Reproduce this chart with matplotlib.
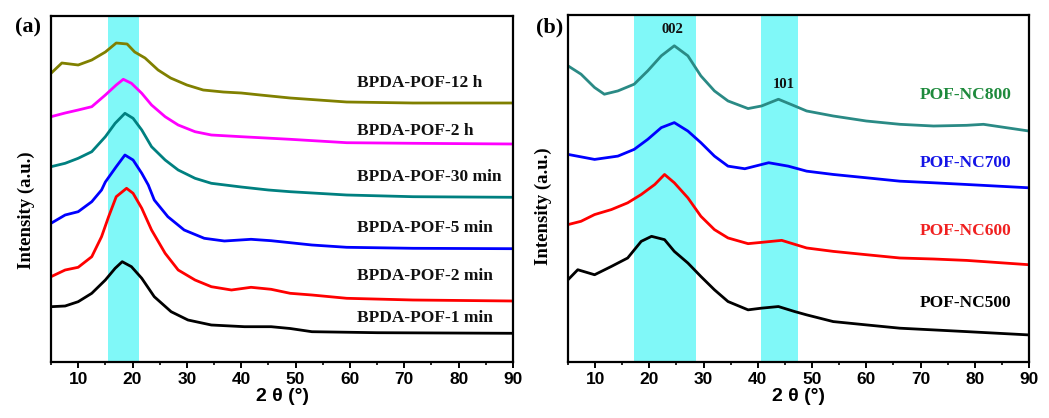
import matplotlib
matplotlib.use("Agg")
import matplotlib.pyplot as plt
from matplotlib.ticker import MultipleLocator

# ---------------- data ----------------
# Panel (a): BPDA-POF series, offset intensity (a.u.)
x_12h = [5, 7, 10, 12.5, 15, 17, 19, 20.4, 22.3, 24.7, 27, 30, 33, 36.7, 40, 43.5, 49, 59.4, 71.6, 90]
y_12h = [288.7, 299, 297, 302, 310, 319, 318, 310, 304, 292, 284, 277, 272, 270, 269, 267, 264, 260, 259, 259]

x_2h = [5, 7.6, 10, 12.5, 15, 17, 18.3, 19.8, 21.7, 23.5, 26, 28.4, 31.5, 34.5, 40, 49, 59.4, 71.6, 90]
y_2h = [245.3, 249, 252, 255.3, 267, 277, 282.7, 278.7, 268.7, 257, 245.3, 237, 230.3, 227, 225.3, 222.7, 219.3, 218.7, 218]

x_30m = [5, 7.6, 10, 12.5, 15, 16.8, 18.6, 20.1, 21.7, 23.5, 26, 28.4, 31.5, 34.5, 40, 45, 49, 59.4, 71.6, 90]
y_30m = [195.3, 198.7, 203.7, 210.3, 225.3, 238.7, 248.7, 243.7, 232, 215.3, 202, 192, 183.7, 178.7, 175, 172, 170.3, 167, 165.3, 164.7]

x_5m = [5, 7.6, 10, 12.5, 14.3, 15, 17, 18.6, 20.1, 21.7, 22.9, 24, 26.5, 29.5, 33.2, 36.9, 41.8, 45.5, 49, 53, 59.4, 71.6, 90]
y_5m = [138.7, 147, 150.3, 160.3, 172, 180, 195.3, 207, 202, 188.7, 177, 162, 145.3, 132, 123.7, 121, 122.7, 121.3, 119.3, 117, 114.7, 113.7, 113.3]

x_2m = [5, 7.6, 10, 12.5, 14.3, 15.6, 17, 18.9, 20.1, 21.7, 23.5, 26, 28.4, 31.5, 34.5, 38.2, 41.8, 45.5, 49, 53, 59.4, 71.6, 90]
y_2m = [85.3, 92, 94.7, 105.3, 125.3, 145.3, 165.3, 173.7, 168.7, 153.7, 132, 108.7, 92, 82, 75.3, 72, 74.7, 72.7, 68.7, 67, 63.7, 62, 61]

x_1m = [5, 7.6, 10, 12.5, 15, 16.8, 18.1, 19.8, 21.7, 24, 27.1, 30.2, 34.5, 40.6, 45.5, 49, 53, 65, 90]
y_1m = [55.3, 56, 60.3, 68.7, 82, 93.7, 100.3, 95.3, 83.7, 65.3, 50.3, 42, 37, 35.3, 35.3, 33.5, 30.3, 29.3, 28.7]

labels_a = ["BPDA-POF-12 h", "BPDA-POF-2 h", "BPDA-POF-30 min",
            "BPDA-POF-5 min", "BPDA-POF-2 min", "BPDA-POF-1 min"]
label_y_a = [278.7, 231.3, 184.7, 133.7, 86.3, 43.7]
colors_a = ["#808000", "#FF00FF", "#008080", "#0000FF", "#FF0000", "#000000"]

# Panel (b): POF-NC series
x_800 = [5, 7.4, 9.9, 11.7, 14.2, 17.2, 19.7, 22.2, 24.6, 27.1, 29.5, 32, 34.5, 38.2, 40.7, 43.8, 46.8, 49, 53.9, 60, 66.2, 72.4, 78.5, 81.6, 90]
y_800 = [295.3, 287, 273.7, 267, 270.3, 277, 290.3, 305.3, 315.3, 305.3, 285.3, 270.3, 260.3, 252.7, 255.3, 262, 255.3, 250.3, 245.3, 240.3, 237, 235.3, 236, 237, 230.3]

x_700 = [5, 9.9, 14.2, 17.2, 19.7, 22.2, 24.6, 27.1, 29.5, 32, 34.5, 37.6, 42, 45.6, 49, 53.9, 60, 66.2, 72.4, 78.5, 90]
y_700 = [207, 202, 205.3, 212, 222, 233.7, 238.7, 230.3, 218.7, 205.3, 195.3, 192.7, 198.7, 195.3, 190.3, 187, 183.7, 180.3, 178.7, 177, 173.7]

x_600 = [5, 7.4, 9.9, 13, 16, 18.5, 21, 22.8, 24.6, 27.1, 29.5, 32, 34.5, 38.2, 40.7, 44.4, 49, 53.9, 60, 66.2, 72.4, 78.5, 90]
y_600 = [137, 140.3, 147, 152, 158.7, 167, 177, 187, 178.7, 163.7, 145.3, 132, 123.7, 118, 119.3, 121.3, 113.7, 110.3, 107, 103.7, 102.7, 101.3, 97]

x_500 = [5, 6.8, 9.9, 13, 16, 18.5, 20.4, 22.8, 24.6, 27.1, 29.5, 32, 34.5, 38.2, 40.7, 43.8, 46.8, 49, 53.9, 60, 66.2, 72.4, 78.5, 90]
y_500 = [82, 92, 87, 95.3, 103.7, 120.3, 125.3, 122, 110.3, 98.7, 85.3, 72, 60.3, 52, 53.7, 55.3, 50.3, 47, 40.3, 37, 33.7, 32, 30.3, 27]

labels_b = ["POF-NC800", "POF-NC700", "POF-NC600", "POF-NC500"]
label_y_b = [266, 198, 130.3, 58.7]
colors_b = ["#2A8A85", "#0000FF", "#FF0000", "#000000"]
label_colors_b = ["#1E8A3C", "#1414E6", "#F02020", "#000000"]

band_a = (15.5, 21.2)
bands_b = [(17.2, 28.6), (40.6, 47.4)]
peaks_b = ["002", "101"]
peak_x_b = [24.2, 44.7]
peak_y_b = [332, 277]

xticks = [10, 20, 30, 40, 50, 60, 70, 80, 90]

# ---------------- figure ----------------
W, H = 1049, 418
fig = plt.figure(figsize=(W / 100, H / 100), dpi=100)
fig.patch.set_facecolor("white")

serif = ["Liberation Serif", "DejaVu Serif"]
sans = ["Liberation Sans", "DejaVu Sans"]
cyan = "#80F8F8"


def px_axes(l, t, r, b):
    return fig.add_axes([l / W, 1 - b / H, (r - l) / W, (b - t) / H])


def style(ax):
    ax.set_xlim(5, 90)
    ax.set_ylim(0, 346)
    ax.set_xticks(xticks)
    ax.xaxis.set_minor_locator(MultipleLocator(5))
    ax.set_yticks([])
    for s in ax.spines.values():
        s.set_linewidth(1.6)
    ax.tick_params(axis="x", which="major", direction="out", length=4, width=1.4,
                   pad=3, labelsize=12.5)
    ax.tick_params(axis="x", which="minor", direction="out", length=2.5, width=1.2)
    for lab in ax.get_xticklabels():
        lab.set_fontfamily(sans)
        lab.set_fontweight("bold")
    ax.set_xlabel("2 θ (°)", fontfamily=sans, fontweight="bold", fontsize=14, labelpad=1)
    ax.set_ylabel("Intensity (a.u.)", fontfamily=serif, fontweight="bold", fontsize=13.5)


# Panel (a)
axa = px_axes(51, 16, 513, 362)
axa.axvspan(*band_a, color=cyan, lw=0, zorder=0)
series_a = [(x_12h, y_12h), (x_2h, y_2h), (x_30m, y_30m), (x_5m, y_5m), (x_2m, y_2m), (x_1m, y_1m)]
for (xs, ys), c in zip(series_a, colors_a):
    axa.plot(xs, ys, color=c, lw=2.0, zorder=2, solid_joinstyle="round")
for lab, yl in zip(labels_a, label_y_a):
    axa.text(61.3, yl, lab, fontfamily=serif, fontweight="bold", fontsize=12.5,
             ha="left", va="center", color="#111111")
style(axa)
axa.yaxis.set_label_coords(-0.035, 0.44)

# Panel (b)
axb = px_axes(568, 15, 1029, 362)
for b0, b1 in bands_b:
    axb.axvspan(b0, b1, color=cyan, lw=0, zorder=0)
series_b = [(x_800, y_800), (x_700, y_700), (x_600, y_600), (x_500, y_500)]
for (xs, ys), c in zip(series_b, colors_b):
    axb.plot(xs, ys, color=c, lw=2.0, zorder=2, solid_joinstyle="round")
for lab, yl, c in zip(labels_b, label_y_b, label_colors_b):
    axb.text(69.9, yl, lab, fontfamily=serif, fontweight="bold", fontsize=12.5,
             ha="left", va="center", color=c)
for t, xp, yp in zip(peaks_b, peak_x_b, peak_y_b):
    axb.text(xp, yp, t, fontfamily=serif, fontweight="bold", fontsize=10.5,
             ha="center", va="center", color="#111111")
style(axb)
axb.yaxis.set_label_coords(-0.035, 0.45)

# panel tags
fig.text(28 / W, 1 - 27 / H, "(a)", fontfamily=serif, fontweight="bold", fontsize=16,
         ha="center", va="center")
fig.text(550 / W, 1 - 27 / H, "(b)", fontfamily=serif, fontweight="bold", fontsize=16,
         ha="center", va="center")

fig.savefig("out.png", dpi=100, facecolor="white")
